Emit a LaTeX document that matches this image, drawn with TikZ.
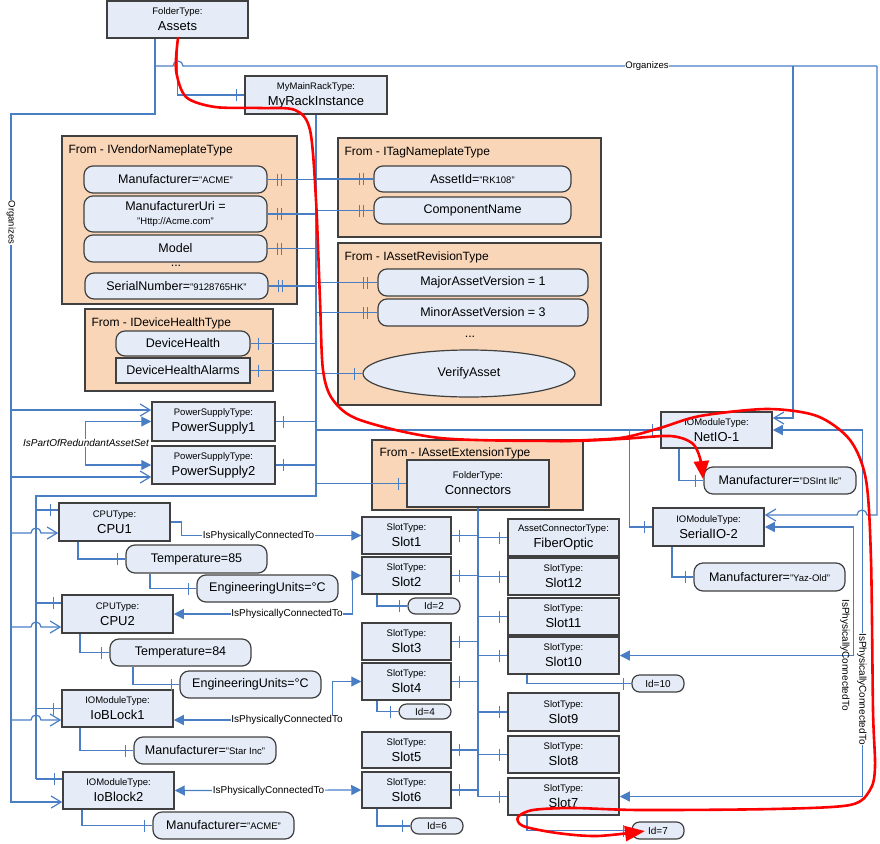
\documentclass[tikz,border=0pt]{standalone}
\usepackage{fontspec}
\setmainfont{Liberation Sans}
\usetikzlibrary{arrows.meta,shapes.geometric,decorations.markings}

\definecolor{conncol}{RGB}{74,126,196}
\definecolor{boxfill}{RGB}{229,236,247}
\definecolor{boxline}{RGB}{64,64,64}
\definecolor{peach}{RGB}{250,214,184}
\definecolor{redc}{RGB}{255,0,0}

\newcommand\smf{\fontsize{9.5}{11}\selectfont}
\newcommand\bgf{\fontsize{12.5}{14}\selectfont}
\newcommand\nmf{\fontsize{13}{16}\selectfont}
\newcommand\tbtext[2]{{\smf #1}\\#2}
\newcommand\ipctext{IsPhysicallyConnectedTo}

\newcommand\mynode[7]{%
  \pgfmathsetmacro\mywd{#5-#3}%
  \pgfmathsetmacro\myht{#6-#4}%
  \node[#1, minimum width=\mywd pt, minimum height=\myht pt] (#2) at ({(#3+#5)/2},{(#4+#6)/2}) {#7};%
}

\tikzset{
 tbox/.style={draw=boxline, fill=boxfill, line width=1.5pt, inner sep=1pt, align=center, font=\nmf},
 grp/.style={draw=boxline, fill=peach, line width=1.1pt, inner sep=0pt},
 prop/.style={draw=boxline, fill=boxfill, line width=1.2pt, rounded corners=9pt, inner sep=1pt, align=center, font=\bgf},
 rprop/.style={draw=boxline, fill=boxfill, line width=1.3pt, inner sep=1pt, font=\bgf},
 eprop/.style={ellipse, draw=boxline, fill=boxfill, line width=1.2pt, inner sep=0pt, font=\bgf},
 idbox/.style={prop, rounded corners=7.5pt, font=\fontsize{10}{12}\selectfont},
 grptitle/.style={anchor=west, inner sep=0pt, font=\fontsize{12}{14}\selectfont},
 conn/.style={draw=conncol, line width=1.2pt},
 hc/.style={conn, postaction={decorate, decoration={markings,
   mark=at position -8pt with {\draw[conncol, line width=1pt] (0pt,-6pt) -- (0pt,6pt);}}}},
 hp/.style={conn, postaction={decorate, decoration={markings,
   mark=at position -10pt with {\draw[conncol, line width=1pt] (0pt,-6pt) -- (0pt,6pt);},
   mark=at position -14pt with {\draw[conncol, line width=1pt] (0pt,-6pt) -- (0pt,6pt);}}}},
 org/.style={conn, -{Straight Barb[length=10pt,width=12pt]}},
 ipc/.style={conn, -{Triangle[length=10pt,width=10pt]}},
 ipcb/.style={conn, {Triangle[length=10pt,width=10pt]}-{Triangle[length=10pt,width=10pt]}},
 lbl/.style={font=\fontsize{10}{12}\selectfont, fill=white, inner sep=0.6pt},
 redl/.style={draw=redc, line width=2.6pt, line cap=round, line join=round},
}

\begin{document}
\begin{tikzpicture}[x=1pt,y=-1pt]
\useasboundingbox (0,0) rectangle (880,843);

% ---------- group boxes ----------
\mynode{grp}{vendor}{62}{136}{297}{304}{}
\mynode{grp}{devhealth}{85}{309}{273}{391}{}
\mynode{grp}{tag}{338}{138}{601}{237}{}
\mynode{grp}{revision}{338}{243}{601}{405}{}
\mynode{grp}{extension}{372}{440}{583}{510}{}
\node[grptitle] (vendor-t) at ([xshift=7pt,yshift=-15pt]vendor.north west) {From - IVendorNameplateType};
\node[grptitle] (devhealth-t) at ([xshift=7pt,yshift=-15pt]devhealth.north west) {From - IDeviceHealthType};
\node[grptitle] (tag-t) at ([xshift=7pt,yshift=-15pt]tag.north west) {From - ITagNameplateType};
\node[grptitle] (revision-t) at ([xshift=7pt,yshift=-15pt]revision.north west) {From - IAssetRevisionType};
\node[grptitle] (extension-t) at ([xshift=8pt,yshift=-14pt]extension.north west) {From - IAssetExtensionType};

% ---------- type boxes ----------
\mynode{tbox}{assets}{107}{1}{248}{38}{\tbtext{FolderType:}{Assets}}
\mynode{tbox}{myrack}{245}{76}{387}{114}{\tbtext{MyMainRackType:}{MyRackInstance}}
\mynode{tbox}{ps1}{152}{402}{275}{441}{\tbtext{PowerSupplyType:}{PowerSupply1}}
\mynode{tbox}{ps2}{152}{446}{275}{484}{\tbtext{PowerSupplyType:}{PowerSupply2}}
\mynode{tbox}{connectors}{407}{460}{549}{507}{\tbtext{FolderType:}{Connectors}}
\mynode{tbox}{cpu1}{59}{503}{170}{541}{\tbtext{CPUType:}{CPU1}}
\mynode{tbox}{cpu2}{62}{595}{173}{633}{\tbtext{CPUType:}{CPU2}}
\mynode{tbox}{ioblock1}{62}{690}{173}{727}{\tbtext{IOModuleType:}{IoBLock1}}
\mynode{tbox}{ioblock2}{63}{772}{174}{809}{\tbtext{IOModuleType:}{IoBlock2}}
\mynode{tbox}{slot1}{362}{517}{451}{554}{\tbtext{SlotType:}{Slot1}}
\mynode{tbox}{slot2}{362}{557}{451}{594}{\tbtext{SlotType:}{Slot2}}
\mynode{tbox}{slot3}{362}{623}{451}{660}{\tbtext{SlotType:}{Slot3}}
\mynode{tbox}{slot4}{362}{663}{451}{700}{\tbtext{SlotType:}{Slot4}}
\mynode{tbox}{slot5}{362}{732}{451}{768}{\tbtext{SlotType:}{Slot5}}
\mynode{tbox}{slot6}{362}{772}{451}{808}{\tbtext{SlotType:}{Slot6}}
\mynode{tbox}{fiber}{508}{519}{619}{556}{\tbtext{AssetConnectorType:}{FiberOptic}}
\mynode{tbox}{slot12}{508}{558}{619}{595}{\tbtext{SlotType:}{Slot12}}
\mynode{tbox}{slot11}{508}{598}{619}{635}{\tbtext{SlotType:}{Slot11}}
\mynode{tbox}{slot10}{508}{637}{619}{674}{\tbtext{SlotType:}{Slot10}}
\mynode{tbox}{slot9}{508}{693}{619}{731}{\tbtext{SlotType:}{Slot9}}
\mynode{tbox}{slot8}{508}{736}{619}{773}{\tbtext{SlotType:}{Slot8}}
\mynode{tbox}{slot7}{508}{778}{619}{815}{\tbtext{SlotType:}{Slot7}}
\mynode{tbox}{netio}{661}{412}{772}{448}{\tbtext{IOModuleType:}{NetIO-1}}
\mynode{tbox}{serialio}{653}{508}{764}{546}{\tbtext{IOModuleType:}{SerialIO-2}}

% ---------- properties ----------
\mynode{prop}{manuf}{84}{166}{267}{193}{Manufacturer=\smf"ACME"}
\mynode{prop}{manuri}{84}{196}{267}{232}{ManufacturerUri =\\\smf"Http://Acme.com"}
\mynode{prop}{model}{84}{235}{267}{262}{Model}
\mynode{prop}{serial}{85}{273}{268}{299}{SerialNumber=\smf"9128765HK"}
\mynode{prop}{devh}{116}{331}{250}{356}{DeviceHealth}
\mynode{rprop}{devalarms}{116}{358}{250}{383}{DeviceHealthAlarms}
\mynode{prop}{assetid}{374}{166}{571}{192}{AssetId=\smf"RK108"}
\mynode{prop}{compname}{374}{197}{571}{224}{ComponentName}
\mynode{prop}{major}{378}{269}{588}{296}{MajorAssetVersion = 1}
\mynode{prop}{minor}{378}{299}{588}{326}{MinorAssetVersion = 3}
\mynode{eprop}{verify}{363}{350}{575}{397}{VerifyAsset}
\node[font=\bgf] (dots1) at (176,266) {...};
\node[font=\bgf] (dots2) at (470,337) {...};
\mynode{prop}{temp85}{126}{545}{267}{573}{Temperature=85}
\mynode{prop}{eng1}{197}{575}{338}{602}{EngineeringUnits=°C}
\mynode{prop}{temp84}{110}{639}{251}{666}{Temperature=84}
\mynode{prop}{eng2}{180}{671}{321}{698}{EngineeringUnits=°C}
\mynode{prop}{manstar}{134}{737}{276}{764}{Manufacturer=\smf"Star Inc"}
\mynode{prop}{manacme}{153}{812}{294}{839}{Manufacturer=\smf"ACME"}
\mynode{prop}{mandsint}{704}{467}{856}{494}{Manufacturer=\smf"DSInt llc"}
\mynode{prop}{manyaz}{694}{563}{845}{591}{Manufacturer=\smf"Yaz-Old"}
\mynode{idbox}{id2}{408}{598}{460}{614}{Id=2}
\mynode{idbox}{id4}{399}{704}{451}{719}{Id=4}
\mynode{idbox}{id6}{411}{818}{463}{834}{Id=6}
\mynode{idbox}{id10}{632}{675}{684}{692}{Id=10}
\mynode{idbox}{id7}{632}{822}{684}{839}{Id=7}

% ---------- Organizes ----------
\draw[org] ([xshift=-22.5pt]assets.south) -- (155,114) -- (11,114) -- (11,802) -- ([yshift=-11.5pt]ioblock2.west);
\draw[org] (11,410) -- ([yshift=11.5pt]ps1.west);
\draw[org] (11,477) -- ([yshift=-12pt]ps2.west);
\draw[org] (11,533) -- (31,533) arc[start angle=180,end angle=0,radius=5pt] -- ([yshift=-11pt]cpu1.west);
\draw[org] (11,627) -- (31,627) arc[start angle=180,end angle=0,radius=5pt] -- ([yshift=-13pt]cpu2.west);
\draw[org] (11,720) -- (31,720) arc[start angle=180,end angle=0,radius=5pt] -- ([yshift=-11.5pt]ioblock1.west);
\draw[conn] (155,66) -- (173,66) arc[start angle=180,end angle=0,radius=5pt] -- (877,66);
\draw[org] (793,66) -- (793,418) -- ([yshift=12pt]netio.east);
\draw[org] (877,66) -- (877,515) -- (867,515) arc[start angle=0,end angle=180,radius=5pt] -- ([yshift=12pt]serialio.east);
\node[lbl, font=\fontsize{9.5}{11}\selectfont] (org-top) at (647,66) {Organizes};
\node[lbl, font=\fontsize{9.5}{11}\selectfont, rotate=-90] (org-left) at (11,222.5) {Organizes};

% ---------- MyRackInstance components ----------
\draw[hc] (assets.south) |- (myrack.west);
\draw[conn] (myrack.south) -- (316,496) -- (36,496) -- (36,779);
\foreach \p in {manuf,manuri,model,serial}
  \draw[hp] (\p.east -| myrack.south) -- (\p.east);
\foreach \p in {devh,devalarms,ps1,ps2}
  \draw[hc] (\p.east -| myrack.south) -- (\p.east);
\foreach \p in {assetid,compname,major,minor}
  \draw[hp] (\p.west -| myrack.south) -- (\p.west);
\draw[hc] (verify.west -| myrack.south) -- (verify.west);
\draw[hc] (netio.west -| myrack.south) -- (netio.west);
\draw[hc] ([xshift=-31pt]netio.west) |- (serialio.west);
\draw[hc] (connectors.west -| myrack.south) -- (connectors.west);
\draw[hc] (36,510) -- ([yshift=12pt]cpu1.west);
\draw[hc] (36,603) -- ([yshift=11pt]cpu2.west);
\draw[hc] (36,708.5) -- (ioblock1.west);
\draw[hc] (36,779) -- ([yshift=11.5pt]ioblock2.west);

% ---------- sub properties ----------
\draw[hc] ([xshift=-36.5pt]cpu1.south) |- (temp85.west);
\draw[hc] ([xshift=-46.5pt]temp85.south) |- (eng1.west);
\draw[hc] ([xshift=-37.5pt]cpu2.south) |- (temp84.west);
\draw[hc] ([xshift=-47.5pt]temp84.south) |- (eng2.west);
\draw[hc] ([xshift=-37.5pt]ioblock1.south) |- (manstar.west);
\draw[hc] ([xshift=-36.5pt]ioblock2.south) |- (manacme.west);
\draw[hc] ([xshift=-37.5pt]netio.south) |- (mandsint.west);
\draw[hc] ([xshift=-36.5pt]serialio.south) |- (manyaz.west);
\draw[hc] ([xshift=-29.5pt]slot2.south) |- (id2.west);
\draw[hc] ([xshift=-29.5pt]slot4.south) |- (id4.west);
\draw[hc] ([xshift=-29.5pt]slot6.south) |- (id6.west);
\draw[hc] ([xshift=-36.5pt]slot10.south) |- (id10.west);
\draw[hc] ([xshift=-36.5pt]slot7.south) |- (id7.west);

% ---------- Connectors folder ----------
\draw[conn] (connectors.south) -- (slot7.west -| connectors.south);
\foreach \s in {slot1,slot2,slot3,slot4,slot5,slot6}
  \draw[hc] (\s.east -| connectors.south) -- (\s.east);
\foreach \s in {fiber,slot12,slot11,slot10,slot9,slot8,slot7}
  \draw[hc] (\s.west -| connectors.south) -- (\s.west);

% ---------- IsPhysicallyConnectedTo ----------
\draw[ipc] (cpu1.east) -- ++(11,0) |- (slot1.west);
\node[lbl] (ipc-l1) at (258.5,535.5) {\ipctext};
\draw[ipcb] (cpu2.east) -- ++(179,0) |- (slot2.west);
\node[lbl] (ipc-l2) at (287,614) {\ipctext};
\draw[ipcb] ([yshift=-11.5pt]ioblock1.east) -- ++(159,0) |- (slot4.west);
\node[lbl] (ipc-l3) at (287,720) {\ipctext};
\draw[ipcb] (ioblock2.east) -- (slot6.west);
\node[lbl] (ipc-l4) at (268.5,790.5) {\ipctext};
\draw[ipcb] (netio.east) -- ++(90,0) |- (slot7.east);
\node[lbl, rotate=-90] (ipc-l5) at (862,689) {\ipctext};
\draw[ipcb] (serialio.east) -- ++(89,0) |- (slot10.east);
\node[lbl, rotate=-90, fill=none] (ipc-l6) at (845,655) {\ipctext};

% ---------- redundant power supplies ----------
\draw[ipcb] (ps1.west) -- ++(-66,0) |- (ps2.west);
\node[lbl, font=\itshape\fontsize{10}{12}\selectfont] (redund) at (86,443) {IsPartOfRedundantAssetSet};

% ---------- red annotation curves ----------
\draw[redl, -{Triangle[length=18pt,width=15pt]}] plot[smooth, tension=0.5] coordinates {
 (178,38) (176,70) (186,97) (215,107) (260,108) (295,110) (310,130) (316,200) (320,300)
 (323,370) (333,400) (360,420) (440,438) (560,441) (620,439) (670,436) (692,443) (700,458) (703,479)};
\draw[redl, -{Triangle[length=20pt,width=15pt]}] plot[smooth, tension=0.5] coordinates {
 (560,441) (620,438) (660,428) (700,416) (767,409) (817,416) (850,440) (866,480) (871,560)
 (873,710) (875,767) (870,790) (850,805) (773,809) (640,810) (573,808) (533,810) (518,817)
 (523,826) (557,833) (597,836) (645,831)};
\end{tikzpicture}
\end{document}
